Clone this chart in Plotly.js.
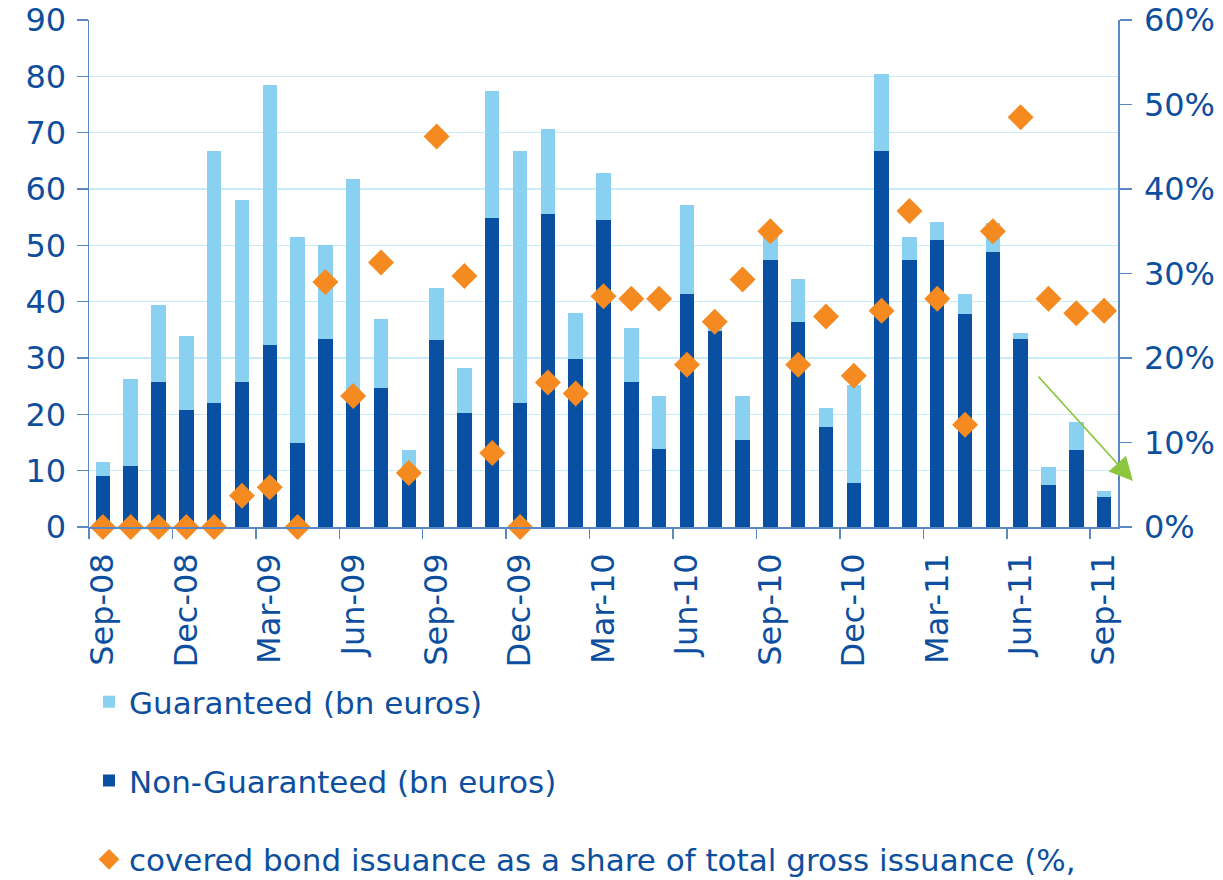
<!DOCTYPE html>
<html>
<head>
<meta charset="utf-8">
<script src="https://cdn.plot.ly/plotly-3.0.1.min.js"></script>
<style>html,body{margin:0;padding:0;background:#fff;}#chart{width:1223px;height:880px;}</style>
</head>
<body>
<div id="chart"></div>
<script>
var months = ["Sep-08","Oct-08","Nov-08","Dec-08","Jan-09","Feb-09","Mar-09","Apr-09","May-09","Jun-09","Jul-09","Aug-09",
  "Sep-09","Oct-09","Nov-09","Dec-09","Jan-10","Feb-10","Mar-10","Apr-10","May-10","Jun-10","Jul-10","Aug-10",
  "Sep-10","Oct-10","Nov-10","Dec-10","Jan-11","Feb-11","Mar-11","Apr-11","May-11","Jun-11","Jul-11","Aug-11","Sep-11"];
var nonGuaranteed = [9.0,10.9,25.7,20.7,22.1,25.7,32.3,15.0,33.4,22.5,24.6,9.5,
  33.2,20.2,54.9,22.1,55.5,29.8,54.5,25.7,13.9,41.3,34.8,15.5,
  47.4,36.4,17.7,7.9,66.7,47.4,51.0,37.8,48.8,33.4,7.5,13.6,5.4];
var guaranteed = [2.6,15.3,13.7,13.2,44.6,32.4,46.1,36.5,16.6,39.2,12.3,4.1,
  9.3,8.1,22.5,44.6,15.2,8.2,8.3,9.6,9.3,15.9,0.6,7.7,
  4.6,7.6,3.5,17.3,13.7,4.1,3.2,3.5,5.1,1.0,3.1,5.1,1.0];
var coveredShare = [0,0,0,0,0,3.7,4.7,0,29.0,15.5,31.3,6.4,
  46.2,29.7,8.75,0,17.1,15.8,27.3,27.0,27.0,19.2,24.3,29.3,
  35.0,19.2,24.9,17.9,25.6,37.4,27.0,12.1,35.0,48.5,27.0,25.3,25.6];
var seriesNames = ["Guaranteed (bn euros)","Non-Guaranteed (bn euros)","covered bond issuance as a share of total gross issuance (%,"];

var textBlue = "#0d4f9e";
var axisBlue = "#5b87c5";
var fontFam = "DejaVu Sans, sans-serif";

var traces = [
  {type:"bar", x:months, y:nonGuaranteed, name:seriesNames[1], legendrank:2, legendgroup:"b",
   marker:{color:"#0a50a2"}, hoverinfo:"x+y"},
  {type:"bar", x:months, y:guaranteed, name:seriesNames[0], legendrank:1, legendgroup:"a",
   marker:{color:"#89d0f1"}, hoverinfo:"x+y"},
  {type:"scatter", mode:"markers", x:months, y:coveredShare, yaxis:"y2", name:seriesNames[2], legendrank:3, legendgroup:"c",
   cliponaxis:false, marker:{symbol:"diamond", size:20, color:"#f58b20"}}
];

var layout = {
  width:1223, height:880,
  margin:{l:89, r:105, t:20, b:353, autoexpand:false},
  paper_bgcolor:"#ffffff", plot_bgcolor:"#ffffff",
  barmode:"stack", bargap:0.48,
  font:{family:fontFam, color:textBlue, size:32},
  showlegend:true,
  legend:{x:0, xanchor:"left", y:-0.292, yanchor:"top", orientation:"v",
    traceorder:"grouped", tracegroupgap:35.5, font:{size:31, color:textBlue, family:fontFam},
    bgcolor:"rgba(0,0,0,0)"},
  xaxis:{type:"category", tickmode:"linear", tick0:0, dtick:3, tickson:"boundaries",
    ticks:"outside", ticklen:10, tickcolor:axisBlue, tickwidth:1.5, ticklabelstandoff:12,
    showline:true, linecolor:axisBlue, linewidth:1.5, showgrid:false, zeroline:false,
    tickangle:-90, tickfont:{size:32, color:textBlue, family:fontFam}, range:[-0.5,36.5]},
  yaxis:{range:[0,90], dtick:10, tick0:0, ticks:"outside", ticklen:11, tickcolor:axisBlue, tickwidth:1.5,
    showline:true, linecolor:axisBlue, linewidth:1.5, showgrid:true, gridcolor:"#c8ecf9", gridwidth:1.5,
    zeroline:false, tickfont:{size:32, color:textBlue, family:fontFam}, ticklabelstandoff:4},
  yaxis2:{overlaying:"y", side:"right", range:[0,60], dtick:10, tick0:0, ticksuffix:"%",
    ticks:"outside", ticklen:12, tickcolor:axisBlue, tickwidth:1.5,
    showline:true, linecolor:axisBlue, linewidth:1.5, showgrid:false, zeroline:false,
    tickfont:{size:32, color:textBlue, family:fontFam}, ticklabelstandoff:6},
  annotations:[
    {xref:"paper", yref:"paper", x:(1133-89)/1029, y:(527-481)/507, ax:-96, ay:-106,
     axref:"pixel", ayref:"pixel", text:"", showarrow:true, arrowhead:2, arrowsize:2.6,
     arrowwidth:1.8, arrowcolor:"#8cc63f", standoff:0}
  ]
};

Plotly.newPlot("chart", traces, layout, {displayModeBar:false, staticPlot:true});
</script>
</body>
</html>
